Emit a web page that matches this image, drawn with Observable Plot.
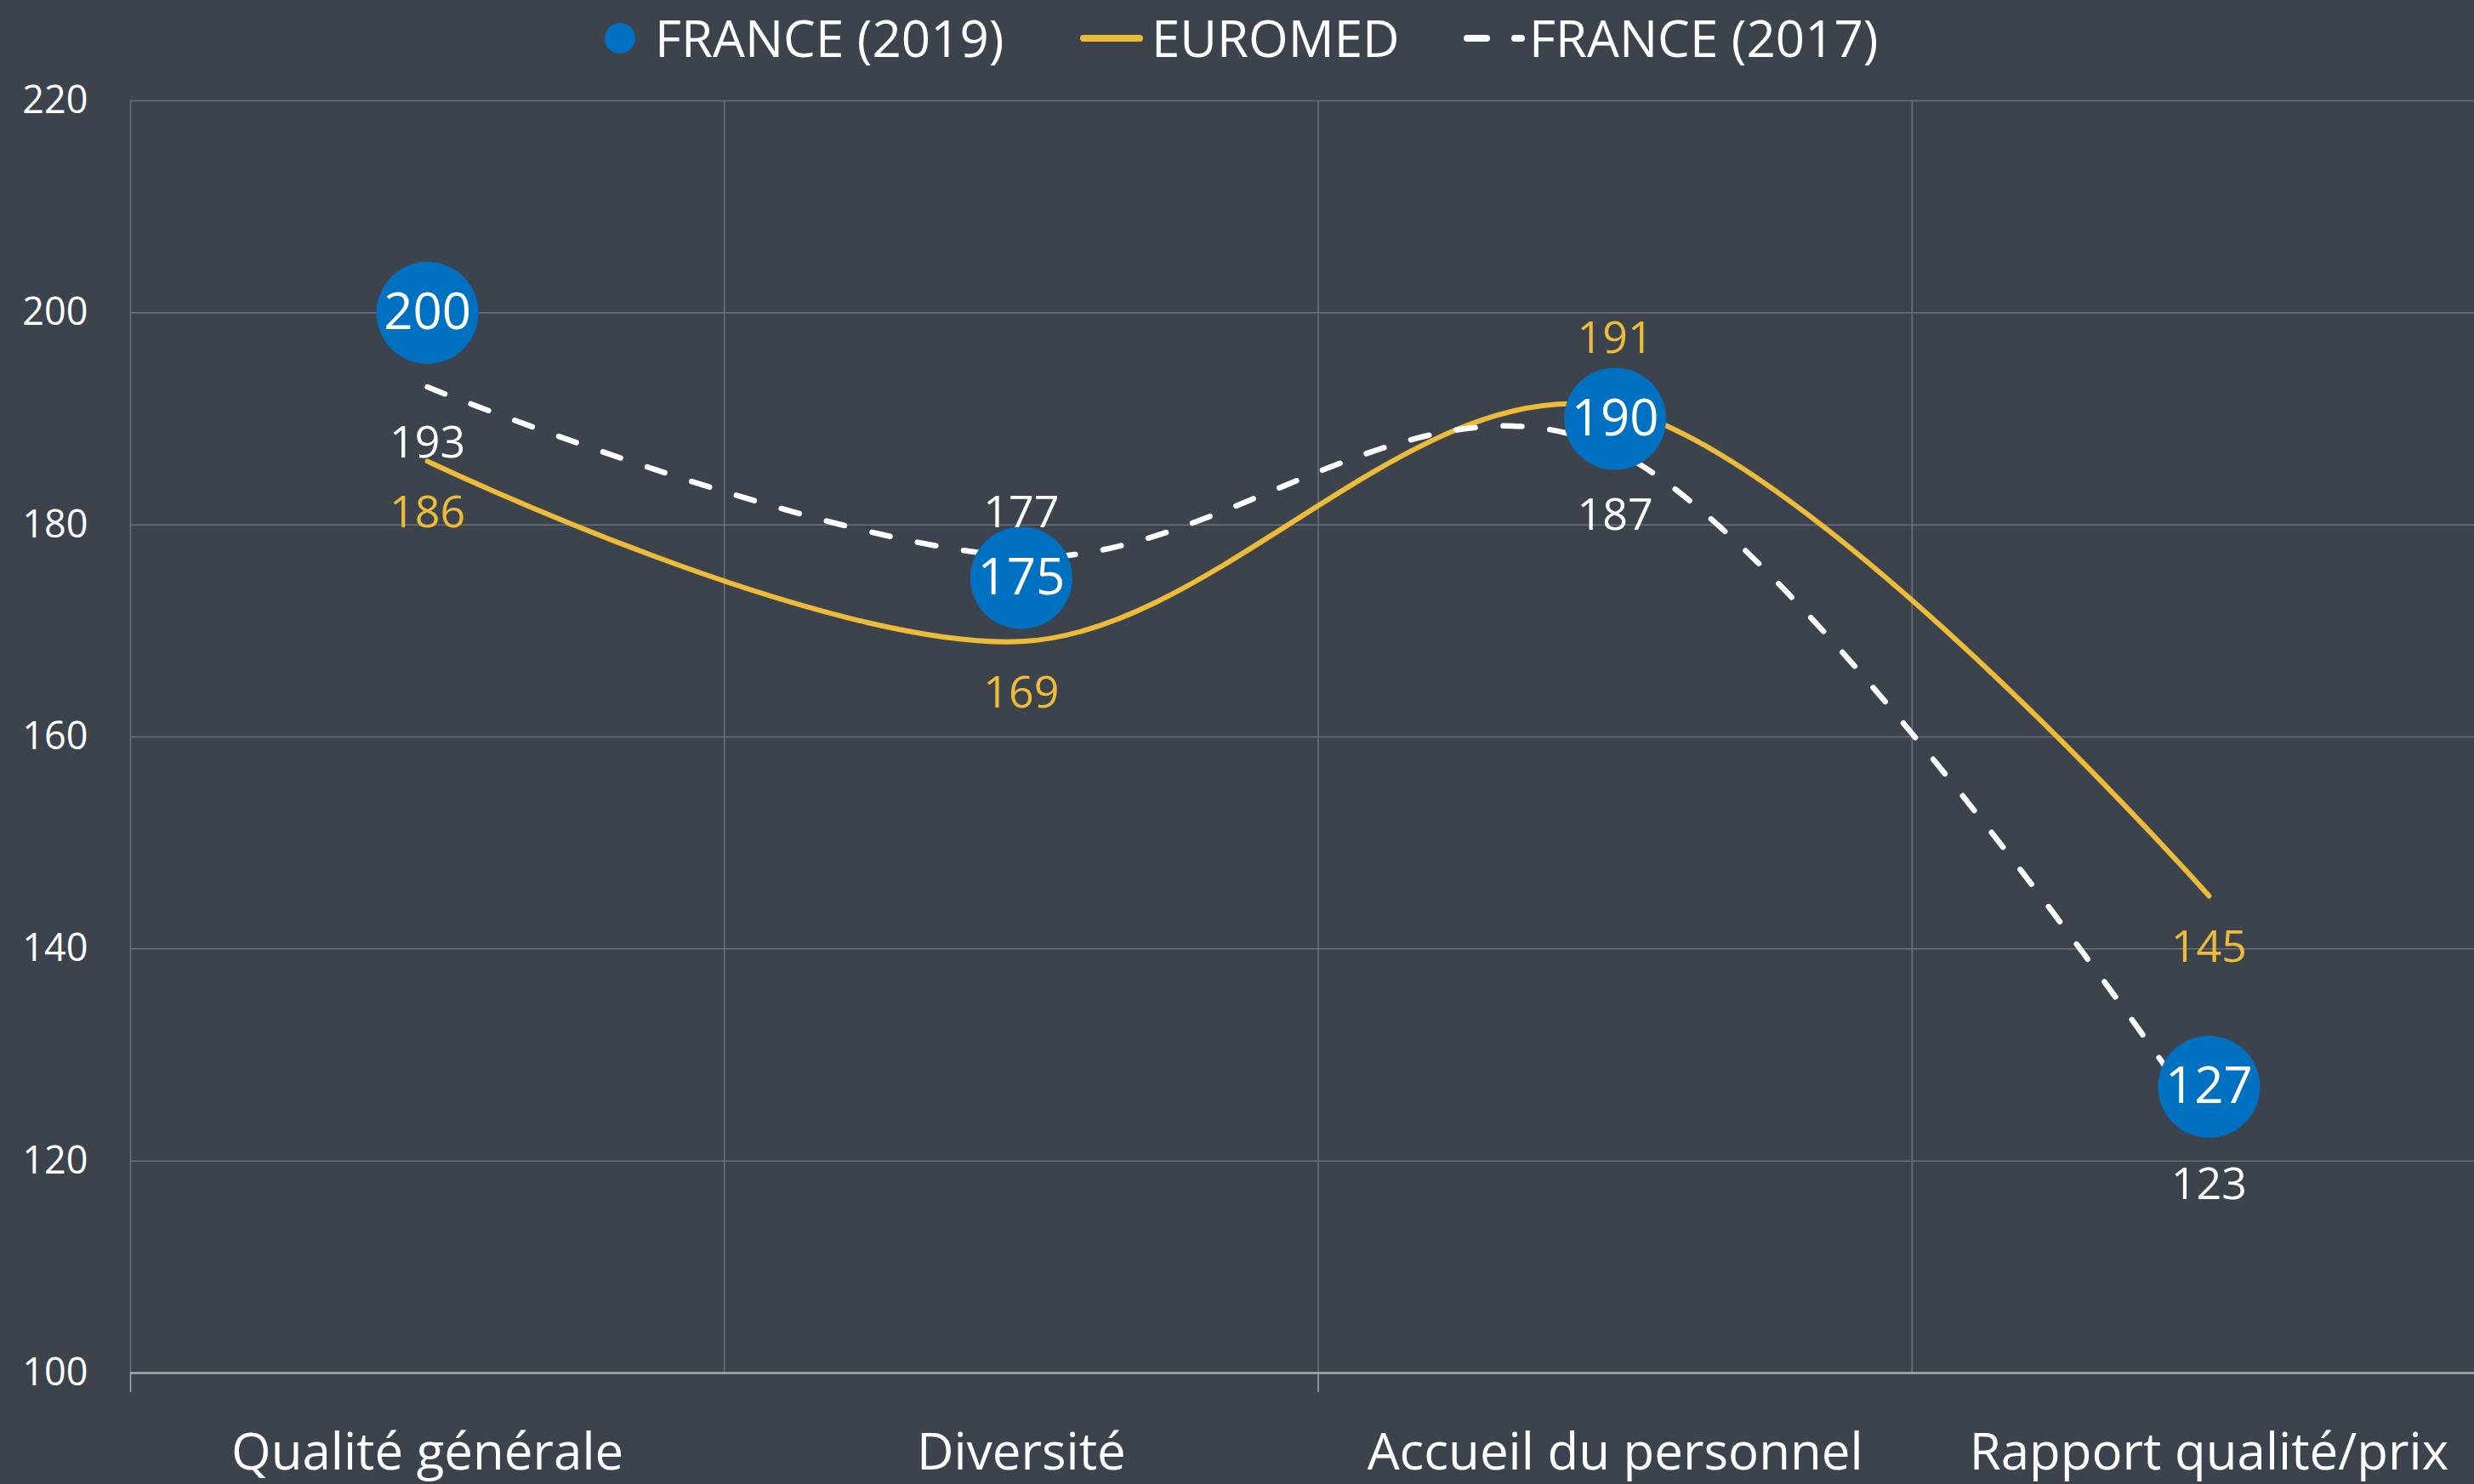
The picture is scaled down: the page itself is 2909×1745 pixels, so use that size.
<!DOCTYPE html>
<html>
<head>
<meta charset="utf-8">
<script src="https://cdn.jsdelivr.net/npm/d3@7"></script>
<script src="https://cdn.jsdelivr.net/npm/@observablehq/plot@0.6"></script>
<style>
  html, body { margin: 0; padding: 0; background: #3d434d; overflow: hidden; }
  body { width: 2909px; height: 1745px; font-family: "Open Sans", sans-serif; }
  #legend { display: block; }
  #chart svg { display: block; }
</style>
</head>
<body>
<svg id="legend" width="2909" height="84">
  <circle cx="729" cy="45" r="18" fill="#0070C0"></circle>
  <text x="770" y="67" font-size="60" fill="#ffffff" font-family="Open Sans">FRANCE (2019)</text>
  <line x1="1274" y1="45" x2="1340" y2="45" stroke="#EDBB3A" stroke-width="8" stroke-linecap="round"></line>
  <text x="1354" y="67" font-size="60" fill="#ffffff" font-family="Open Sans">EUROMED</text>
  <line x1="1725" y1="45" x2="1748" y2="45" stroke="#ffffff" stroke-width="8" stroke-linecap="round"></line>
  <line x1="1781" y1="45" x2="1789" y2="45" stroke="#ffffff" stroke-width="8" stroke-linecap="round"></line>
  <text x="1798" y="67" font-size="60" fill="#ffffff" font-family="Open Sans">FRANCE (2017)</text>
</svg>
<div id="chart"></div>
<script>
const categories = ["Qualité générale", "Diversité", "Accueil du personnel", "Rapport qualité/prix"];
const france2019 = [200, 175, 190, 127];
const euromed = [186, 169, 191, 145];
const france2017 = [193, 177, 187, 123];
const yTicks = [100, 120, 140, 160, 180, 200, 220];

const rows = categories.map((c, i) => ({i, c, f19: france2019[i], eu: euromed[i], f17: france2017[i]}));
const boundaries = categories.map((_, i) => i - 0.5);

const BLUE = "#0070C0", YELLOW = "#EDBB3A", GRID = "#6c7078", AXIS = "#a9abae";

const chart = Plot.plot({
  width: 2909,
  height: 1661,
  marginTop: 34,
  marginBottom: 131,
  marginLeft: 153,
  marginRight: 0,
  x: {type: "linear", domain: [-0.5, 3.5], range: [153, 2946], label: null},
  y: {domain: [100, 220], label: null},
  style: {background: "transparent", fontFamily: "Open Sans", color: "#ffffff", overflow: "hidden"},
  marks: [
    Plot.ruleY(yTicks.filter(v => v > 100), {stroke: GRID, strokeWidth: 1.5}),
    Plot.ruleX(boundaries, {y1: 100, y2: 220, stroke: GRID, strokeWidth: 1.5}),
    Plot.ruleY([100], {stroke: AXIS, strokeWidth: 2.5}),
    Plot.axisX({ticks: boundaries.filter((_, k) => k % 2 === 0), tickSize: 23, tickFormat: () => "", stroke: AXIS, strokeWidth: 1.5, label: null}),
    Plot.axisX({ticks: rows.map(d => d.i), tickSize: 0, tickPadding: 71, tickFormat: i => categories[i], fontSize: 60, fill: "#ffffff", label: null}),
    Plot.axisY({ticks: yTicks, tickSize: 0, tickPadding: 50, fontSize: 45, fill: "#ffffff", label: null}),
    Plot.line(rows, {x: "i", y: "eu", curve: "cardinal", stroke: YELLOW, strokeWidth: 6}),
    Plot.line(rows, {x: "i", y: "f17", curve: "cardinal", stroke: "#ffffff", strokeWidth: 6.5, strokeDasharray: "22,33", strokeLinecap: "round"}),
    Plot.dot(rows, {x: "i", y: "f19", r: 60, fill: BLUE, stroke: null}),
    Plot.text(rows, {x: "i", y: "f19", text: d => String(d.f19), fill: "#ffffff", fontSize: 60}),
    // EUROMED labels
    Plot.text(rows, {filter: d => d.i !== 2, x: "i", y: "eu", text: d => String(d.eu), fill: YELLOW, fontSize: 52, dy: 61}),
    Plot.text(rows, {filter: d => d.i === 2, x: "i", y: "eu", text: d => String(d.eu), fill: YELLOW, fontSize: 52, dy: -82}),
    // FRANCE 2017 labels
    Plot.text(rows, {filter: d => d.i === 0 || d.i === 3, x: "i", y: "f17", text: d => String(d.f17), fill: "#ffffff", fontSize: 52, dy: 66}),
    Plot.text(rows, {filter: d => d.i === 2, x: "i", y: "f17", text: d => String(d.f17), fill: "#ffffff", fontSize: 52, dy: 76}),
    Plot.text(rows, {filter: d => d.i === 1, x: "i", y: "f17", text: d => String(d.f17), fill: "#ffffff", fontSize: 52, dy: -51})
  ]
});
document.getElementById("chart").appendChild(chart);
</script>
</body>
</html>
